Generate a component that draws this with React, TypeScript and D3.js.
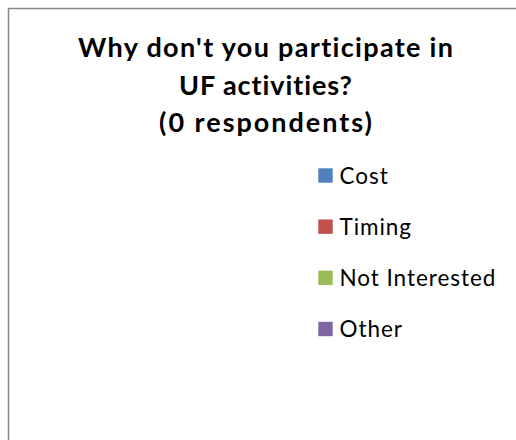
import React from "react";
import * as d3 from "d3";

const titleLines = ["Why don't you participate in", "UF activities?", "(0 respondents)"];
const categories = ["Cost", "Timing", "Not Interested", "Other"];
const values = [0, 0, 0, 0];
const colors = ["#4F81BD", "#C0504D", "#9BBB59", "#8064A2"];

const W = 516;
const H = 440;
const FONT = "Lato, 'Open Sans', sans-serif";
// rendered widths of the title lines (layout only)
const TITLE_WIDTHS = [375, 173, 213];

export default function App() {
  const color = d3.scaleOrdinal<string, string>().domain(categories).range(colors);
  const legendY = d3.scalePoint<string>().domain(categories).range([175.5, 329]);
  const titleY = d3.scalePoint<string>().domain(titleLines).range([57, 132]);

  const pie = d3.pie<number>().sort(null).value((d) => d);
  const arcs = pie(values);
  const arc = d3.arc<d3.PieArcDatum<number>>().innerRadius(0).outerRadius(110);
  const total = d3.sum(values);

  return (
    <svg
      width={W}
      height={H}
      style={{ position: "fixed", left: 0, top: 0, background: "#fff" }}
    >
      <rect x={0} y={0} width={W} height={H} fill="#fff" />
      <rect
        x={8.5}
        y={8.5}
        width={W + 20}
        height={H + 20}
        fill="#fff"
        stroke="#868686"
        strokeWidth={1.5}
      />
      <g
        fontFamily={FONT}
        fontWeight="bold"
        fontSize={27}
        fill="#000"
        textAnchor="middle"
        style={{ fontVariantLigatures: "none" }}
      >
        {titleLines.map((t, i) => (
          <text
            key={t}
            x={265.5}
            y={titleY(t)}
            textLength={TITLE_WIDTHS[i]}
            lengthAdjust="spacing"
          >
            {t}
          </text>
        ))}
      </g>
      {total > 0 && (
        <g transform="translate(160,280)">
          {arcs.map((a, i) => (
            <path key={i} d={arc(a) || ""} fill={color(categories[i])} />
          ))}
        </g>
      )}
      <g
        fontFamily={FONT}
        fontSize={22.5}
        fill="#000"
        letterSpacing={0.95}
        style={{ fontVariantLigatures: "none" }}
      >
        {categories.map((c) => (
          <g key={c} transform={`translate(0,${legendY(c)})`}>
            <rect x={318.3} y={-7.2} width={14.4} height={14.4} fill={color(c)} />
            <text x={339.5} y={0} dy="0.36em">
              {c}
            </text>
          </g>
        ))}
      </g>
    </svg>
  );
}
